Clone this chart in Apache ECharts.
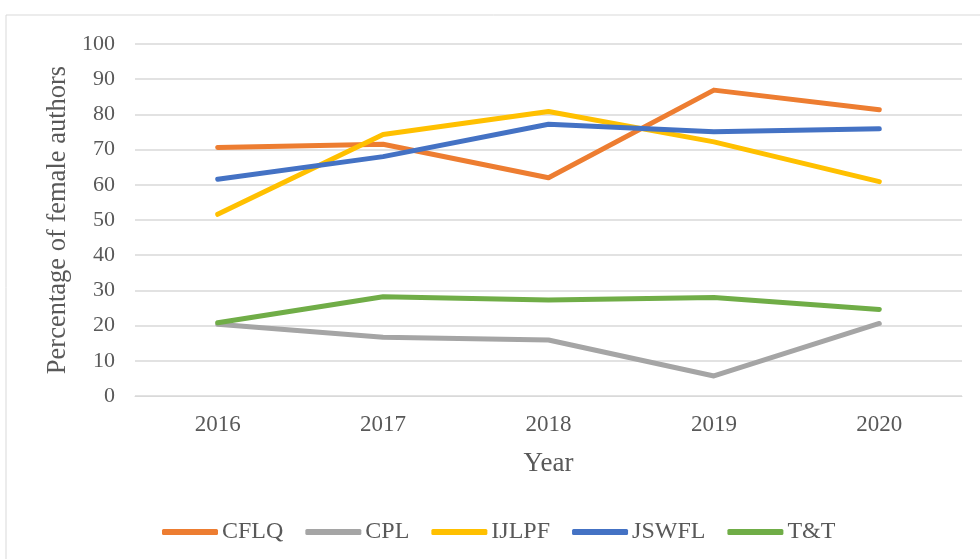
<!DOCTYPE html>
<html><head><meta charset="utf-8">
<script src="https://cdn.jsdelivr.net/npm/echarts@6/dist/echarts.min.js"></script>
<style>html,body{margin:0;padding:0;background:#fff}#c{width:980px;height:559px}</style>
</head><body><div id="c"></div>
<script>
const years = ['2016','2017','2018','2019','2020'];
const CFLQ  = [70.6, 71.5, 62.0, 86.9, 81.3];
const CPL   = [20.4, 16.7, 15.9, 5.7, 20.6];
const IJLPF = [51.6, 74.3, 80.8, 72.2, 60.9];
const JSWFL = [61.6, 68.0, 77.2, 75.1, 75.9];
const TT    = [20.8, 28.2, 27.3, 28.0, 24.6];
const seriesNames = ['CFLQ','CPL','IJLPF','JSWFL','T&T'];
const seriesData = [CFLQ, CPL, IJLPF, JSWFL, TT];
const colors = ['#ED7D31','#A5A5A5','#FFC000','#4472C4','#70AD47'];
const font = 'Liberation Serif';
const chart = echarts.init(document.getElementById('c'));
chart.setOption({
  animation:false,
  color: colors,
  graphic:[{type:'rect',shape:{x:6,y:15,width:1000,height:600},style:{fill:'none',stroke:'#D9D9D9',lineWidth:1},silent:true}],
  grid:{left:135,right:18,top:44,bottom:163},
  legend:{
    bottom:10, left:157,
    icon:'roundRect', itemWidth:56, itemHeight:6, itemGap:22,
    textStyle:{fontFamily:font,fontSize:24,color:'#595959',padding:[0,0,0,-1]},
    data: seriesNames
  },
  xAxis:{
    type:'category', data: years, boundaryGap:true,
    name:'Year', nameLocation:'middle', nameGap:54,
    nameTextStyle:{fontFamily:font,fontSize:27,color:'#595959'},
    axisLine:{show:true,lineStyle:{color:'#D9D9D9',width:1}},
    axisTick:{show:false},
    axisLabel:{fontFamily:font,fontSize:23,color:'#595959',margin:17}
  },
  yAxis:{
    type:'value', min:0, max:100, interval:10,
    name:'Percentage of female authors', nameLocation:'middle', nameGap:63,
    nameTextStyle:{fontFamily:font,fontSize:26.5,color:'#595959'},
    axisLine:{show:false}, axisTick:{show:false},
    splitLine:{lineStyle:{color:'#D9D9D9',width:1.5}},
    axisLabel:{fontFamily:font,fontSize:22,color:'#595959',margin:20}
  },
  series: seriesNames.map((n,i)=>({
    name:n, type:'line', data: seriesData[i], symbol:'none',
    lineStyle:{width:5,color:colors[i],cap:'round',join:'round'},
    itemStyle:{color:colors[i]}
  }))
});
</script></body></html>
